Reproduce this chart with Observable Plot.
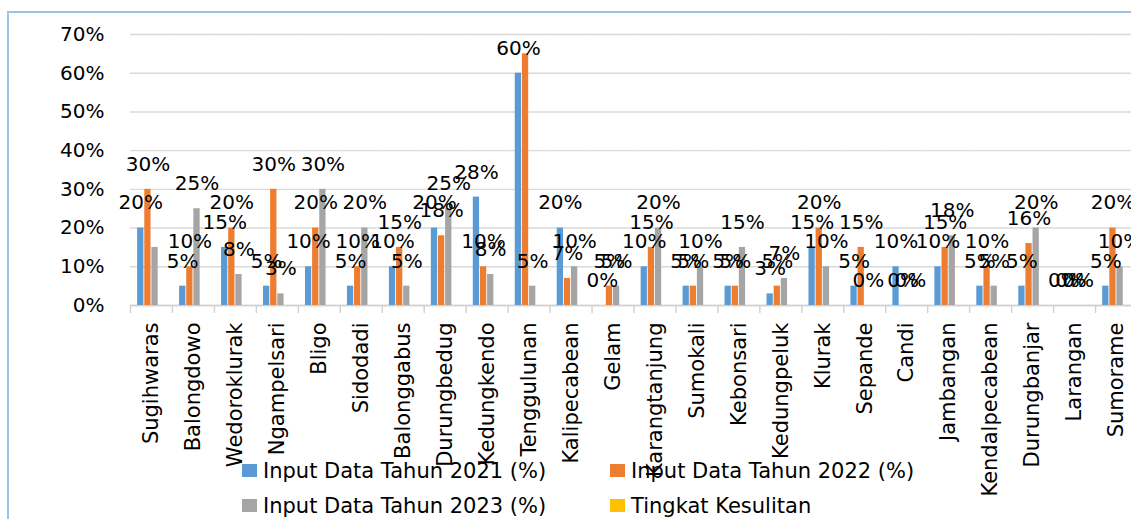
<!DOCTYPE html>
<html><head><meta charset="utf-8">
<script src="https://cdn.jsdelivr.net/npm/d3@7"></script>
<script src="https://cdn.jsdelivr.net/npm/@observablehq/plot@0.6"></script>
<style>
body{margin:0;overflow:hidden;background:#fff;font-family:"DejaVu Sans",sans-serif;}
#wrap{position:relative;width:1131px;height:519px;overflow:hidden;background:#fff;}
#frame{position:absolute;left:7px;top:11px;width:1300px;height:700px;border:2px solid #9dc3e6;box-sizing:border-box;}
#chart{position:absolute;left:0;top:0;}
#legend{position:absolute;left:242px;top:453px;display:grid;grid-template-columns:368px 320px;color:#000;font-size:21px;}
.item{display:flex;align-items:center;height:35px;white-space:nowrap;}
.sw{width:15px;height:13px;margin-right:6px;flex:none;}
</style></head>
<body>
<div id="wrap"><div id="frame"></div><div id="chart"></div><div id="legend"></div></div>
<script>
const categories = ["Sugihwaras","Balongdowo","Wedoroklurak","Ngampelsari","Bligo","Sidodadi","Balonggabus","Durungbedug","Kedungkendo","Tenggulunan","Kalipecabean","Gelam","Karangtanjung","Sumokali","Kebonsari","Kedungpeluk","Klurak","Sepande","Candi","Jambangan","Kendalpecabean","Durungbanjar","Larangan","Sumorame"];
const seriesNames = ["Input Data Tahun 2021 (%)","Input Data Tahun 2022 (%)","Input Data Tahun 2023 (%)","Tingkat Kesulitan"];
const seriesColors = ["#5b9bd5","#ed7d31","#a5a5a5","#ffc000"];
const v2021 = [20,5,15,5,10,5,10,20,28,60,20,0,10,5,5,3,15,5,10,10,5,5,0,5];
const v2022 = [30,10,20,30,20,10,15,18,10,65,7,5,15,5,5,5,20,15,0,15,10,16,0,20];
const v2023 = [15,25,8,3,30,20,5,25,8,5,10,5,20,10,15,7,10,0,0,18,5,20,0,10];
const tingkat = categories.map(() => null);
const hiddenLabels = [["Sugihwaras","Input Data Tahun 2023 (%)"],["Tenggulunan","Input Data Tahun 2022 (%)"]];
const yTicks = [0,10,20,30,40,50,60,70];

const allSeries = [v2021, v2022, v2023, tingkat];
const rows = [];
categories.forEach((c, i) => {
  allSeries.forEach((arr, s) => {
    if (arr[i] != null) rows.push({cat: c, series: seriesNames[s], value: arr[i]});
  });
});
const isHidden = d => hiddenLabels.some(([c, s]) => c === d.cat && s === d.series);
const labelRows = rows.filter(d => !isHidden(d));

const W = 1137, H = 519, ML = 130, MR = 0;
const step = (W - ML - MR) / categories.length;

const chart = Plot.plot({
  width: W, height: H,
  marginTop: 34, marginBottom: 214, marginLeft: ML, marginRight: MR,
  style: {fontFamily: "DejaVu Sans, sans-serif", maxWidth: "none", background: "transparent", color: "#000"},
  fx: {domain: categories, padding: 0, round: false, label: null},
  x: {domain: seriesNames, paddingInner: 0.12, paddingOuter: 1, round: false, axis: null},
  y: {domain: [0, 70], label: null},
  color: {domain: seriesNames, range: seriesColors},
  marks: [
    Plot.gridY(yTicks, {stroke: "#d9d9d9", strokeOpacity: 1, strokeWidth: 1.4}),
    Plot.ruleY([0], {stroke: "#d0d0d0", strokeWidth: 1.6}),
    Plot.axisY(yTicks, {tickSize: 0, tickPadding: 26, fontSize: 20, tickFormat: d => d + "%", label: null}),
    Plot.axisFx({anchor: "bottom", tickSize: 8, tickFormat: () => "", dx: -step / 2, stroke: "#d0d0d0", strokeWidth: 1.4, label: null}),
    Plot.axisFx({anchor: "bottom", tickSize: 0, tickPadding: 17, tickRotate: -90, fontSize: 21, label: null}),
    Plot.barY(rows, {fx: "cat", x: "series", y: "value", fill: "series"}),
    Plot.text(labelRows, {fx: "cat", x: "series", y: "value", text: d => d.value + "%", dy: -25, lineAnchor: "middle", fontSize: 20, fill: "#000"})
  ]
});
document.getElementById("chart").appendChild(chart);

const legend = document.getElementById("legend");
[0, 1, 2, 3].forEach(i => {
  const it = document.createElement("div");
  it.className = "item";
  const sw = document.createElement("span");
  sw.className = "sw";
  sw.style.background = seriesColors[i];
  const tx = document.createElement("span");
  tx.textContent = seriesNames[i];
  it.appendChild(sw); it.appendChild(tx);
  legend.appendChild(it);
});
</script>
</body></html>
